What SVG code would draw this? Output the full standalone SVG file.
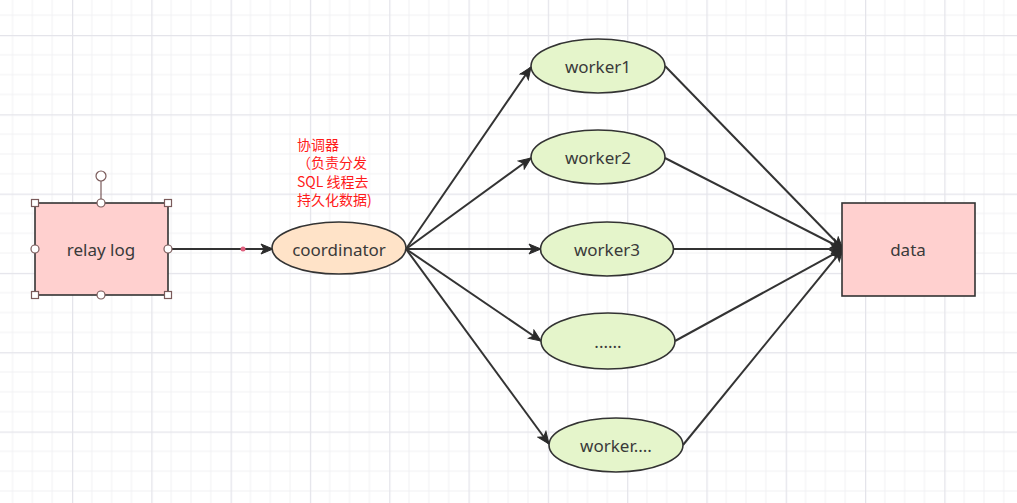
<svg xmlns="http://www.w3.org/2000/svg" width="1017" height="503" viewBox="0 0 1017 503">
  <defs>
    <pattern id="grid" patternUnits="userSpaceOnUse" x="72" y="35" width="79.3" height="79.3">
      <path d="M19.825,0 V79.3 M39.65,0 V79.3 M59.475,0 V79.3 M0,19.825 H79.3 M0,39.65 H79.3 M0,59.475 H79.3" stroke="#f1f1f4" stroke-width="1" fill="none"/>
      <path d="M0.5,0 V79.3 M0,0.5 H79.3" stroke="#e4e4ea" stroke-width="1.5" fill="none"/>
    </pattern>
    <marker id="arrow" markerUnits="userSpaceOnUse" markerWidth="14" markerHeight="12" refX="13" refY="6" orient="auto">
      <path d="M1,1 L13,6 L1,11 L4,6 Z" fill="#2b2b2b" stroke="#2b2b2b" stroke-width="1"/>
    </marker>
    <style>
      .box { stroke: #333; stroke-width: 1.6; }
      .pink { fill: #ffd0cf; }
      .green { fill: #e5f5cb; }
      .peach { fill: #ffe3c8; }
      .lbl { font-family: "Noto Sans", "Liberation Sans", sans-serif; font-size: 17px; fill: #3a3a3a; text-anchor: middle; dominant-baseline: central; }
      .edge { stroke: #333; stroke-width: 2; fill: none; marker-end: url(#arrow); }
      .handle { fill: #ffffff; stroke: #7a5a5a; stroke-width: 1.2; }
      .note { font-family: "Noto Sans CJK SC", "Noto Sans", sans-serif; font-size: 14px; fill: #ff1a1a; }
    </style>
  </defs>

  <rect width="1017" height="503" fill="#ffffff"/>
  <rect width="1017" height="503" fill="url(#grid)"/>

  <g id="connectors">
    <path class="edge" d="M168,249 L273,249"/>
    <circle cx="243" cy="249" r="2.5" fill="#e0607e"/>
    <path class="edge" d="M406,249 L531,67"/>
    <path class="edge" d="M406,249 L531,158"/>
    <path class="edge" d="M406,249 L541,249"/>
    <path class="edge" d="M406,249 L541,341"/>
    <path class="edge" d="M406,249 L549,444"/>
    <path class="edge" d="M665,66 L843,249"/>
    <path class="edge" d="M665,158 L843,249"/>
    <path class="edge" d="M674,249 L843,249"/>
    <path class="edge" d="M675,341 L843,249"/>
    <path class="edge" d="M683,445 L843,249"/>
  </g>

  <g id="relay-log">
    <rect class="box pink" x="35" y="203" width="133" height="92"/>
    <text class="lbl" x="101" y="249">relay log</text>
    <line x1="101" y1="181" x2="101" y2="203" stroke="#7a5a5a" stroke-width="1.2"/>
    <circle class="handle" cx="101" cy="176" r="5"/>
    <rect class="handle" x="31.5" y="199.5" width="7" height="7"/>
    <rect class="handle" x="164.5" y="199.5" width="7" height="7"/>
    <rect class="handle" x="31.5" y="291.5" width="7" height="7"/>
    <rect class="handle" x="164.5" y="291.5" width="7" height="7"/>
    <circle class="handle" cx="101" cy="203" r="4"/>
    <circle class="handle" cx="101" cy="295" r="4"/>
    <circle class="handle" cx="35" cy="249" r="4"/>
    <circle class="handle" cx="168" cy="249" r="4"/>
  </g>

  <g id="coordinator">
    <ellipse class="box peach" cx="339" cy="248" rx="67" ry="26"/>
    <text class="lbl" x="339" y="249">coordinator</text>
  </g>

  <g id="coordinator-note">
    <text class="note" x="297" y="150">协调器</text>
    <text class="note" x="297" y="168">（负责分发</text>
    <text class="note" x="297" y="187">SQL 线程去</text>
    <text class="note" x="297" y="205">持久化数据)</text>
  </g>

  <g id="worker1">
    <ellipse class="box green" cx="598" cy="66" rx="67" ry="27"/>
    <text class="lbl" x="598" y="66">worker1</text>
  </g>
  <g id="worker2">
    <ellipse class="box green" cx="598" cy="157" rx="67" ry="27"/>
    <text class="lbl" x="598" y="157">worker2</text>
  </g>
  <g id="worker3">
    <ellipse class="box green" cx="607" cy="249" rx="66.5" ry="27"/>
    <text class="lbl" x="607" y="249">worker3</text>
  </g>
  <g id="worker-dots">
    <ellipse class="box green" cx="608" cy="341" rx="67" ry="28"/>
    <text class="lbl" x="608" y="341">......</text>
  </g>
  <g id="worker-n">
    <ellipse class="box green" cx="616" cy="445" rx="67" ry="27"/>
    <text class="lbl" x="616" y="445">worker....</text>
  </g>

  <g id="data">
    <rect class="box pink" x="842" y="203" width="133" height="93"/>
    <text class="lbl" x="908" y="249">data</text>
  </g>
</svg>
